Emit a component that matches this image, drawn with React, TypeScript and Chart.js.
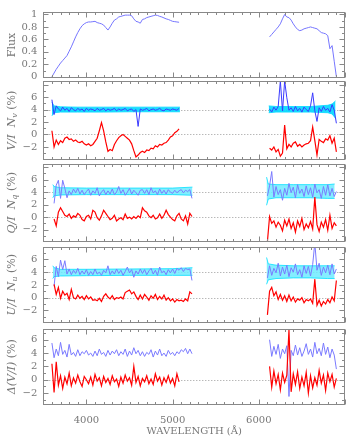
import React, { useEffect, useRef } from "react";
import { Chart, registerables } from "chart.js";
Chart.register(...registerables);

const W = 354;
const H = 438;
const X_MIN = 3500;
const X_MAX = 7000;
const X_TICK_LABELS = [4000, 5000, 6000];
const GAP_WL = 5650;

const WL1 = [3600,3625,3650,3675,3700,3725,3750,3775,3800,3825,3850,3875,3900,3925,3950,3975,4000,4025,4050,4075,4100,4125,4150,4175,4200,4225,4250,4275,4300,4325,4350,4375,4400,4425,4450,4475,4500,4525,4550,4575,4600,4625,4650,4675,4700,4725,4750,4775,4800,4825,4850,4875,4900,4925,4950,4975,5000,5025,5050,5075,5100,5125,5150,5175,5200,5225];
const WL2 = [6100,6125,6150,6175,6200,6225,6250,6275,6300,6325,6350,6375,6400,6425,6450,6475,6500,6525,6550,6575,6600,6625,6650,6675,6700,6725,6750,6775,6800,6825,6850,6875,6900];

const N = null;

// Panel 1: normalised flux
const FLUX_1 = [0.00,0.06,0.12,0.17,0.22,0.26,0.30,0.34,0.41,0.48,
  0.56,0.64,0.71,0.77,0.82,0.85,0.87,0.88,0.88,0.885,
  0.89,0.87,0.86,0.85,0.83,0.79,0.75,0.80,0.86,0.91,
  0.93,0.96,0.97,0.98,0.99,0.99,0.99,0.98,0.93,0.89,
  0.88,0.86,0.92,0.93,0.95,0.96,0.97,0.98,0.99,0.985,
  0.97,0.96,0.945,0.93,0.92,0.905,0.89,0.885,0.88,0.875,
  N,N,N,N,N,N];
const FLUX_2 = [N,0.64,0.68,0.72,0.76,0.80,0.85,0.93,1.00,0.96,
  0.95,0.91,0.85,0.80,0.76,0.74,0.75,0.77,0.78,0.79,
  0.80,0.79,0.78,0.77,0.74,0.71,0.70,0.69,0.66,0.45,
  0.50,0.25,0.00];

// Panel 2: V/I (red) and null N_v (blue, offset +4)
const V_RED_1 = [0.6,-2.0,-0.9,-1.6,-1.0,-1.3,-0.6,-0.4,-0.8,-0.7,
  -1.1,-0.9,-1.2,-1.3,-1.1,-1.5,-1.7,-1.5,-1.8,-1.6,
  -1.1,-0.6,0.6,1.9,0.6,-1.2,-2.7,-2.4,-2.6,-1.6,
  -1.0,-0.5,-0.2,0.0,-0.3,-0.6,-0.9,-1.5,-2.6,-3.6,
  -3.3,-2.9,-2.7,-2.9,-2.5,-2.6,-2.2,-2.3,-1.8,-2.0,
  -1.6,-1.7,-1.4,-1.3,-0.9,-0.4,-0.2,0.3,0.5,0.9,
  N,N,N,N,N,N];
const V_RED_2 = [N,-2.2,-2.5,-2.0,-2.8,-2.4,-3.5,-3.0,1.5,-2.3,
  -1.6,-2.0,-1.4,-1.2,-1.9,-1.6,-2.0,-1.7,-1.5,-1.4,
  -1.0,1.2,-1.0,-3.3,-0.8,-1.1,-1.3,-0.7,-0.9,-0.2,
  -1.4,-0.6,-2.8];
const V_BLUE_1 = [5.6,3.2,4.6,4.1,3.8,4.4,3.9,4.2,3.7,4.3,
  4.0,3.8,4.2,3.9,4.1,3.7,4.2,3.9,4.1,4.0,
  3.8,4.2,3.9,4.0,4.2,3.8,4.1,3.9,4.0,4.2,
  3.8,4.1,3.9,4.0,4.2,3.8,4.0,4.1,3.7,4.0,
  1.3,4.1,3.9,4.0,4.2,3.8,4.0,4.1,3.9,4.0,
  4.2,3.9,3.8,4.1,4.0,3.9,4.1,4.0,3.9,4.2,
  N,N,N,N,N,N];
const V_BLUE_2 = [N,4.1,3.6,4.4,3.9,4.5,8.6,3.8,8.6,5.9,
  3.9,4.3,3.7,4.5,3.8,4.2,3.6,4.4,4.0,3.7,
  4.6,6.7,3.8,2.1,4.3,3.7,4.5,3.9,4.2,3.6,
  4.8,3.9,1.8];
const V_BAND_WL_1 = [3600,3625,3700,3900,4200,4500,4800,5085];
const V_BAND_LO_1 = [3.0,3.5,3.6,3.6,3.6,3.65,3.65,3.65];
const V_BAND_HI_1 = [5.2,4.6,4.45,4.4,4.4,4.4,4.4,4.4];
const V_BAND_WL_2 = [6115,6200,6400,6600,6800,6850,6890];
const V_BAND_LO_2 = [3.5,3.6,3.6,3.6,3.5,3.3,2.6];
const V_BAND_HI_2 = [4.6,4.5,4.5,4.5,4.7,4.9,5.4];

// Panel 3: Q/I and null N_q
const Q_RED_1 = [N,-0.3,-1.4,0.8,1.5,0.9,0.3,0.1,0.5,-0.2,
  0.2,0.0,0.6,0.3,-0.4,-0.6,0.1,0.3,-0.3,1.1,
  0.8,-0.1,-0.5,0.2,1.1,0.6,0.1,-0.4,-0.2,0.3,
  -0.6,-0.3,-0.1,-0.4,0.5,-0.2,0.0,-0.3,0.1,-0.2,
  0.2,-0.1,1.5,1.0,0.8,0.2,-0.1,0.3,-0.3,-0.1,
  0.5,-0.2,0.3,1.1,0.4,0.0,-0.4,-0.6,0.2,0.6,
  -0.3,-0.6,0.2,-1.1,0.6,0.1];
const Q_RED_2 = [-3.9,0.1,-1.0,-0.6,-1.6,-0.8,-1.3,-2.2,-0.5,-1.4,
  -0.3,-1.8,-0.9,-2.4,-0.6,-1.5,-0.2,-2.0,-1.1,-1.7,
  -0.7,-1.9,3.2,-1.2,-2.3,-0.8,-1.6,-0.4,-2.1,0.3,
  -1.8,-0.9,-1.4];
const Q_BLUE_1 = [N,2.2,5.1,5.9,3.0,5.9,4.6,3.1,4.2,3.6,
  4.5,3.9,4.6,3.7,4.3,3.6,4.1,4.5,3.5,4.2,
  3.8,4.7,3.4,4.0,4.4,3.6,4.2,3.7,4.5,3.6,
  4.0,4.9,3.8,4.4,3.5,4.0,4.6,3.7,4.3,3.9,
  3.5,4.3,4.4,3.8,4.4,3.6,4.7,3.9,4.2,3.6,
  4.5,3.8,4.3,3.7,4.4,4.0,3.8,4.3,3.9,4.2,
  4.4,3.9,4.3,4.1,4.4,3.0];
const Q_BLUE_2 = [3.4,5.0,7.3,3.2,4.9,3.6,4.4,2.7,4.6,3.5,
  5.4,3.9,4.8,3.1,5.2,3.8,4.5,3.3,5.0,3.6,
  4.7,3.2,5.3,3.9,4.4,3.0,4.9,3.5,5.2,3.4,
  4.6,3.3,4.1];
const Q_BAND_WL_1 = [3610,3625,3700,4000,4500,5000,5230];
const Q_BAND_LO_1 = [3.1,3.4,3.55,3.6,3.6,3.6,3.5];
const Q_BAND_HI_1 = [5.2,4.9,4.7,4.65,4.65,4.65,4.8];
const Q_BAND_WL_2 = [6090,6110,6200,6400,6600,6800,6880];
const Q_BAND_LO_2 = [1.9,2.9,3.1,3.1,3.1,3.0,3.0];
const Q_BAND_HI_2 = [6.4,5.3,5.2,5.2,5.2,5.2,5.3];

// Panel 4: U/I and null N_u
const U_RED_1 = [N,2.1,0.5,1.6,-0.1,1.0,0.4,0.7,-0.3,1.3,
  0.0,-0.2,0.4,-0.1,0.2,-0.3,0.3,-0.2,0.1,-0.4,
  -0.3,-0.5,-0.1,-0.6,0.2,0.6,0.1,-0.2,0.3,-0.3,
  0.0,-0.1,0.1,-0.2,0.8,1.0,1.2,0.6,0.9,0.2,
  -0.3,0.4,-0.2,0.5,0.1,-0.4,0.3,-0.1,0.5,-0.3,
  0.2,-0.2,0.4,-0.4,0.0,-0.5,-0.2,-0.7,-0.3,-0.5,
  -0.4,-0.6,-0.2,-0.5,0.9,0.6];
const U_RED_2 = [-2.7,1.0,1.6,0.3,0.9,-0.3,0.5,-0.4,0.3,-0.6,
  0.4,-0.5,0.1,-0.7,-0.2,-0.4,0.0,-0.8,-0.3,-0.5,
  -0.2,-0.9,2.9,-1.2,-0.4,-1.3,-0.6,-1.0,-0.3,-0.8,
  0.1,-0.5,2.7];
const U_BLUE_1 = [N,1.8,4.9,3.3,5.9,4.4,5.8,3.7,4.5,3.6,
  4.3,3.8,4.6,3.6,4.2,3.7,4.4,3.5,4.1,3.6,
  4.5,3.7,4.0,3.5,4.3,3.9,5.0,3.6,4.2,3.7,
  4.5,3.8,4.3,3.5,4.1,4.8,3.9,4.4,3.2,4.2,
  3.7,4.5,3.8,4.4,3.6,4.2,4.6,3.7,4.3,3.5,
  4.8,3.9,4.2,3.6,4.4,3.9,4.5,3.8,4.6,4.3,
  4.7,4.1,4.6,4.4,4.5,2.7];
const U_BLUE_2 = [3.1,5.0,3.5,4.6,3.9,5.4,3.4,4.8,3.7,5.1,
  3.3,4.7,4.0,5.3,3.6,4.4,3.2,5.0,3.8,4.9,
  3.4,5.2,8.6,4.3,5.4,3.5,4.8,3.9,5.1,3.6,
  5.3,3.7,4.5];
const U_BAND_WL_1 = [3610,3625,3700,4000,4500,5000,5230];
const U_BAND_LO_1 = [3.0,3.3,3.4,3.45,3.5,3.5,3.5];
const U_BAND_HI_1 = [5.0,4.7,4.45,4.45,4.5,4.55,4.7];
const U_BAND_WL_2 = [6090,6110,6200,6400,6600,6800,6880];
const U_BAND_LO_2 = [2.1,2.8,3.0,3.1,3.1,3.0,3.0];
const U_BAND_HI_2 = [6.3,5.3,5.1,5.0,5.0,5.0,5.0];

// Panel 5: Delta(V/I) (red) and its null (blue, offset +4)
const D_RED_1 = [2.4,-1.9,2.7,-0.8,0.6,-1.3,0.4,-0.6,1.0,-0.9,
  0.3,-0.5,0.7,-0.3,-1.0,0.5,0.0,-0.6,0.4,-0.8,
  0.8,-0.2,0.3,-0.9,0.5,-0.4,0.2,-0.7,0.6,-0.3,
  0.1,-1.0,0.4,-0.5,0.7,-0.2,0.3,-0.8,2.0,-0.4,
  0.5,-0.9,0.2,-0.3,0.6,-0.6,0.1,-0.7,0.9,-0.2,
  0.4,-0.8,0.3,-0.4,0.6,-0.5,0.2,-0.9,0.9,-0.3,
  N,N,N,N,N,N];
const D_RED_2 = [N,2.0,-1.1,1.3,-0.6,0.8,-1.5,1.0,-0.4,0.7,
  7.5,-1.8,0.9,-0.7,1.2,-1.3,0.4,-0.9,1.1,-2.0,
  0.6,-1.2,0.3,-0.8,1.4,-0.5,0.7,-1.6,1.0,-0.3,
  0.8,-1.1,0.2];
const D_BLUE_1 = [5.5,3.3,4.6,3.6,5.6,3.8,4.4,3.4,5.3,3.7,
  4.1,3.5,4.5,3.6,4.2,3.9,4.4,3.7,4.0,3.5,
  4.3,3.6,4.6,3.8,4.1,3.5,4.4,3.7,4.3,3.9,
  4.5,3.6,4.2,3.8,4.6,3.5,4.3,3.7,4.8,3.9,
  4.4,3.6,4.2,3.5,4.1,3.8,4.5,3.4,4.3,3.7,
  4.6,3.6,4.0,3.5,4.4,3.8,4.1,3.6,4.2,3.9,
  4.5,4.2,4.7,3.9,4.6,3.9];
const D_BLUE_2 = [N,6.0,3.5,5.0,3.8,5.3,3.2,4.6,3.9,5.1,
  -2.5,4.4,3.6,5.2,3.7,4.8,3.5,4.3,5.4,3.8,
  4.6,3.4,5.6,3.9,4.7,3.6,5.5,3.8,4.9,3.3,
  4.6,3.7,1.6];

const FLUX_TICK_LABELS = [0, 0.2, 0.4, 0.6, 0.8, 1];
const PCT_TICK_LABELS = [-2, 0, 2, 4, 6];

const FONT = "'DejaVu Serif', serif";
const TEXT = "#777";
const FRAME = "#888";

type Pt = { x: number; y: number | null };
const pts = (wl: number[], v: (number | null)[]): Pt[] => wl.map((x, i) => ({ x, y: v[i] }));
const joined = (v1: (number | null)[], v2: (number | null)[]) => [
  ...pts(WL1, v1),
  { x: GAP_WL, y: null },
  ...pts(WL2, v2),
];
const line = (data: Pt[], color: string, order: number, width = 1): any => ({
  type: "line",
  data,
  borderColor: color,
  borderWidth: width,
  pointRadius: 0,
  fill: false,
  tension: 0,
  order,
  spanGaps: false,
});
const band = (wl: number[], lo: number[], hi: number[], fillColor: string, edge: string): any[] => [
  line(pts(wl, lo), edge, 3, 0.8),
  { ...line(pts(wl, hi), edge, 3, 0.8), fill: "-1", backgroundColor: fillColor },
];

type Part = { t: string; it?: boolean; sub?: boolean };
type Panel = {
  top: number;
  bottom: number;
  yMin: number;
  yMax: number;
  ticks: number[];
  major: number;
  minor: number;
  refs: number[];
  title: Part[];
  datasets: any[];
  showX: boolean;
};

const BAND_V = "rgba(0,215,255,0.9)";
const BAND_QU = "rgba(110,235,255,0.85)";
const RED = "#ff0000";
const RED_W = 1.2;

const PANELS: Panel[] = [
  {
    top: 2, bottom: 78, yMin: -0.02, yMax: 1.04, ticks: FLUX_TICK_LABELS, major: 0.2, minor: 0.1, refs: [],
    title: [{ t: "Flux" }],
    datasets: [line(joined(FLUX_1, FLUX_2), "#7676ff", 0)],
    showX: false,
  },
  {
    top: 81, bottom: 160, yMin: -4.1, yMax: 8.6, ticks: PCT_TICK_LABELS, major: 2, minor: 1, refs: [0, 4],
    title: [{ t: "V/I", it: true }, { t: "  " }, { t: "N", it: true }, { t: "v", it: true, sub: true }, { t: " (%)" }],
    datasets: [
      line(joined(V_RED_1, V_RED_2), RED, 0, RED_W),
      line(joined(V_BLUE_1, V_BLUE_2), "#3a3aff", 1),
      ...band(V_BAND_WL_1, V_BAND_LO_1, V_BAND_HI_1, BAND_V, "#00d8ff"),
      ...band(V_BAND_WL_2, V_BAND_LO_2, V_BAND_HI_2, BAND_V, "#00d8ff"),
    ],
    showX: false,
  },
  {
    top: 164, bottom: 241.5, yMin: -3.9, yMax: 8.5, ticks: PCT_TICK_LABELS, major: 2, minor: 1, refs: [0, 4],
    title: [{ t: "Q/I", it: true }, { t: "  " }, { t: "N", it: true }, { t: "q", it: true, sub: true }, { t: " (%)" }],
    datasets: [
      line(joined(Q_RED_1, Q_RED_2), RED, 0, RED_W),
      line(joined(Q_BLUE_1, Q_BLUE_2), "#7a7aff", 1),
      ...band(Q_BAND_WL_1, Q_BAND_LO_1, Q_BAND_HI_1, BAND_QU, "#00e0ff"),
      ...band(Q_BAND_WL_2, Q_BAND_LO_2, Q_BAND_HI_2, BAND_QU, "#00e0ff"),
    ],
    showX: false,
  },
  {
    top: 247, bottom: 322.5, yMin: -3.9, yMax: 7.95, ticks: PCT_TICK_LABELS, major: 2, minor: 1, refs: [0, 4],
    title: [{ t: "U/I", it: true }, { t: "  " }, { t: "N", it: true }, { t: "u", it: true, sub: true }, { t: " (%)" }],
    datasets: [
      line(joined(U_RED_1, U_RED_2), RED, 0, RED_W),
      line(joined(U_BLUE_1, U_BLUE_2), "#7a7aff", 1),
      ...band(U_BAND_WL_1, U_BAND_LO_1, U_BAND_HI_1, BAND_QU, "#00e0ff"),
      ...band(U_BAND_WL_2, U_BAND_LO_2, U_BAND_HI_2, BAND_QU, "#00e0ff"),
    ],
    showX: false,
  },
  {
    top: 329, bottom: 404.5, yMin: -3.7, yMax: 7.6, ticks: PCT_TICK_LABELS, major: 2, minor: 1, refs: [0],
    title: [{ t: "Δ(V/I)", it: true }, { t: " (%)" }],
    datasets: [
      line(joined(D_RED_1, D_RED_2), RED, 0, RED_W),
      line(joined(D_BLUE_1, D_BLUE_2), "#7a7aff", 1),
    ],
    showX: true,
  },
];

const framePlugin = {
  id: "frameTicks",
  beforeDatasetsDraw(chart: any, _a: any, opts: any) {
    const { ctx, chartArea: a, scales } = chart;
    const y = scales.y;
    ctx.save();
    ctx.strokeStyle = "#9a9a9a";
    ctx.lineWidth = 1;
    ctx.setLineDash([1, 2]);
    for (const v of opts.refs as number[]) {
      const py = Math.round(y.getPixelForValue(v)) + 0.5;
      ctx.beginPath();
      ctx.moveTo(a.left, py);
      ctx.lineTo(a.right, py);
      ctx.stroke();
    }
    ctx.restore();
  },
  afterDatasetsDraw(chart: any, _a: any, opts: any) {
    const { ctx, chartArea: a, scales } = chart;
    const x = scales.x;
    const y = scales.y;
    ctx.save();
    ctx.strokeStyle = FRAME;
    ctx.lineWidth = 1;
    const L = Math.round(a.left) + 0.5;
    const R = Math.round(a.right) - 0.5;
    const T = Math.round(a.top) + 0.5;
    const B = Math.round(a.bottom) - 0.5;
    ctx.strokeRect(L, T, R - L, B - T);
    ctx.beginPath();
    for (let k = Math.ceil(X_MIN / 100); k <= Math.floor(X_MAX / 100); k++) {
      const v = k * 100;
      const len = v % 1000 === 0 ? 5 : 2.5;
      const px = Math.round(x.getPixelForValue(v)) + 0.5;
      ctx.moveTo(px, B);
      ctx.lineTo(px, B - len);
      ctx.moveTo(px, T);
      ctx.lineTo(px, T + len);
    }
    const mn = opts.minor as number;
    const mj = opts.major as number;
    for (let k = Math.ceil(opts.yMin / mn - 1e-6); k <= Math.floor(opts.yMax / mn + 1e-6); k++) {
      const v = k * mn;
      const r = v / mj;
      const isMajor = Math.abs(r - Math.round(r)) < 1e-6;
      const len = isMajor ? 5 : 2.5;
      const py = Math.round(y.getPixelForValue(v)) + 0.5;
      ctx.moveTo(L, py);
      ctx.lineTo(L + len, py);
      ctx.moveTo(R, py);
      ctx.lineTo(R - len, py);
    }
    ctx.stroke();
    ctx.restore();
  },
  afterDraw(chart: any, _a: any, opts: any) {
    const { ctx, chartArea: a } = chart;
    const parts = opts.title as Part[];
    const fontOf = (p: Part) => `${p.it ? "italic " : ""}${p.sub ? 8 : 11}px ${FONT}`;
    ctx.save();
    ctx.fillStyle = TEXT;
    ctx.textBaseline = "middle";
    ctx.textAlign = "left";
    let total = 0;
    const widths = parts.map((p) => {
      ctx.font = fontOf(p);
      const w = ctx.measureText(p.t).width;
      total += w;
      return w;
    });
    ctx.translate(12.5, (a.top + a.bottom) / 2);
    ctx.rotate(-Math.PI / 2);
    let cx = -total / 2;
    parts.forEach((p, i) => {
      ctx.font = fontOf(p);
      ctx.fillText(p.t, cx, p.sub ? 2.5 : 0);
      cx += widths[i];
    });
    ctx.restore();
  },
};

function makeConfig(p: Panel): any {
  return {
    type: "line",
    data: { datasets: p.datasets },
    plugins: [framePlugin],
    options: {
      animation: false,
      responsive: false,
      devicePixelRatio: 1,
      events: [],
      layout: { padding: { top: p.top, bottom: p.showX ? 0 : H - p.bottom, left: 0, right: W - 345 } },
      plugins: {
        legend: { display: false },
        tooltip: { enabled: false },
        frameTicks: { refs: p.refs, minor: p.minor, major: p.major, yMin: p.yMin, yMax: p.yMax, title: p.title },
      },
      scales: {
        x: {
          type: "linear",
          min: X_MIN,
          max: X_MAX,
          display: p.showX,
          afterFit: (s: any) => {
            s.height = p.showX ? H - p.bottom : 0;
          },
          afterBuildTicks: (s: any) => {
            s.ticks = X_TICK_LABELS.map((v) => ({ value: v }));
          },
          grid: { display: false, drawTicks: false },
          border: { display: false },
          ticks: { color: TEXT, font: { family: FONT, size: 10 }, padding: 10, maxRotation: 0, autoSkip: false, callback: (v: number) => String(v) },
          title: { display: true, text: "WAVELENGTH (Å)", color: TEXT, font: { family: FONT, size: 10 }, padding: { top: 0, bottom: 1 } },
        },
        y: {
          type: "linear",
          min: p.yMin,
          max: p.yMax,
          afterFit: (s: any) => {
            s.width = 43.3;
          },
          afterBuildTicks: (s: any) => {
            s.ticks = p.ticks.map((v) => ({ value: v }));
          },
          grid: { display: false, drawTicks: false },
          border: { display: false },
          ticks: {
            color: TEXT,
            font: { family: FONT, size: 10 },
            padding: 6,
            autoSkip: false,
            callback: (v: number) => String(v).replace("-", "\u2212"),
          },
        },
      },
    },
  };
}

export default function App() {
  const refs = useRef<(HTMLCanvasElement | null)[]>([]);
  useEffect(() => {
    const charts = PANELS.map((p, i) => new Chart(refs.current[i] as HTMLCanvasElement, makeConfig(p)));
    return () => charts.forEach((c) => c.destroy());
  }, []);
  return (
    <div style={{ position: "absolute", left: 0, top: 0, width: W, height: H, background: "#fff" }}>
      {PANELS.map((_, i) => (
        <canvas
          key={i}
          ref={(el) => {
            refs.current[i] = el;
          }}
          width={W}
          height={H}
          style={{ position: "absolute", left: 0, top: 0, width: W, height: H }}
        />
      ))}
    </div>
  );
}
